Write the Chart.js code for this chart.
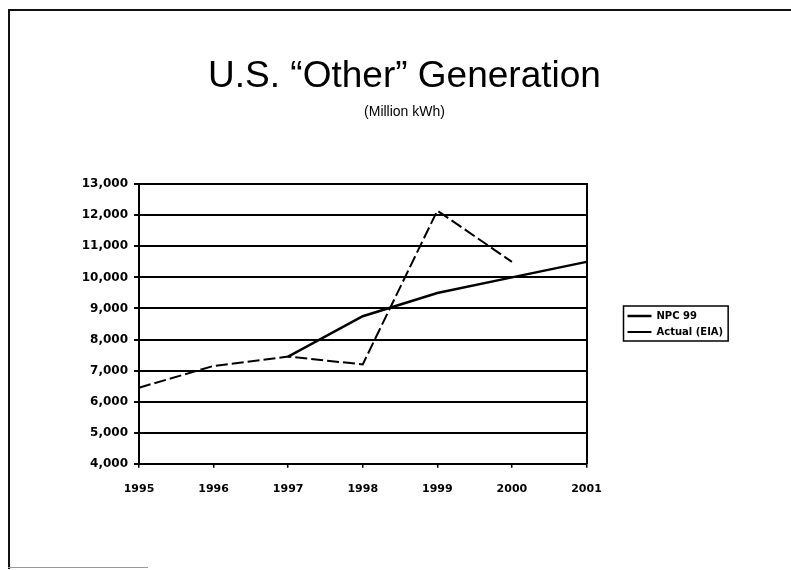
<!DOCTYPE html>
<html>
<head>
<meta charset="utf-8">
<script src="https://cdn.jsdelivr.net/npm/chart.js@4"></script>
<style>
	html, body { margin: 0; padding: 0; background: #fff; }
	.page { position: relative; width: 791px; height: 570px; overflow: hidden; }
	.frame { position: absolute; left: 8px; top: 9px; right: -4px; height: 558px; border-top: 2px solid #111; border-left: 2px solid #111; }
	.frame-bottom { position: absolute; left: 8px; top: 567px; width: 140px; height: 0; border-top: 1px solid #999; }
	canvas { position: absolute; left: 0; top: 0; }
</style>
</head>
<body>
<div class="page">
	<div class="frame"></div>
	<div class="frame-bottom"></div>
	<canvas id="chart" width="791" height="570"></canvas>
</div>
<script>
/* ----- Data ----- */

// Years
const years = ['1995', '1996', '1997', '1998', '1999', '2000', '2001'];

// NPC 99 (solid)
const npc99 = [null, null, 7450, 8750, 9500, 10000, 10500];

// Actual (EIA) (dashed)
const actualEia = [6450, 7150, 7450, 7200, 12150, 10500, null];

// Axis range
const yMin = 4000;
const yMax = 13000;
const yStep = 1000;

/* ----- Legend Box ----- */

const legendBox = {
	id: 'legendBox',
	afterDraw: chart => {
		const boxes = chart.legend.legendHitBoxes;
		if (!boxes || !boxes.length) return;
		const left = Math.min(...boxes.map(b => b.left)) - 4;
		const top = Math.min(...boxes.map(b => b.top)) - 5;
		const right = Math.max(...boxes.map(b => b.left + b.width)) + 5;
		const bottom = Math.max(...boxes.map(b => b.top + b.height)) + 4;
		const ctx = chart.ctx;
		ctx.save();
		ctx.strokeStyle = '#000';
		ctx.lineWidth = 1.5;
		ctx.strokeRect(left, top, right - left, bottom - top);
		ctx.restore();
	}
};

/* ----- Define Chart ----- */

const tickFont = { family: 'DejaVu Sans', weight: 'bold', size: 11 };

const chart = new Chart(document.getElementById('chart'), {
	type: 'line',
	data: {
		labels: years,
		datasets: [
			{
				label: 'NPC 99',
				data: npc99,
				borderColor: '#000',
				backgroundColor: '#000',
				borderWidth: 2.5,
				pointRadius: 0,
				tension: 0
			},
			{
				label: 'Actual (EIA)',
				data: actualEia,
				borderColor: '#000',
				backgroundColor: '#000',
				borderWidth: 2,
				borderDash: [12, 4],
				pointRadius: 0,
				tension: 0
			}
		]
	},
	options: {
		responsive: false,
		animation: false,
		events: [],
		layout: {
			padding: { left: 79, right: 61, top: 0, bottom: 59 }
		},
		scales: {
			x: {
				type: 'category',
				offset: false,
				grid: {
					drawOnChartArea: false,
					drawTicks: true,
					tickLength: 4,
					color: '#000',
					lineWidth: 1.5
				},
				border: { display: true, color: '#000', width: 2 },
				ticks: {
					color: '#000',
					font: tickFont,
					padding: 15,
					maxRotation: 0
				}
			},
			y: {
				min: yMin,
				max: yMax,
				afterFit: scale => { scale.width = 60; },
				grid: {
					color: '#000',
					lineWidth: 2,
					drawTicks: true,
					tickLength: 5
				},
				border: { display: true, color: '#000', width: 2 },
				ticks: {
					stepSize: yStep,
					color: '#000',
					font: { family: 'DejaVu Sans', weight: 'bold', size: 12 },
					padding: 6,
					callback: value => value.toLocaleString('en-US')
				}
			},
			y2: {
				position: 'right',
				min: yMin,
				max: yMax,
				afterFit: scale => { scale.width = 35; },
				grid: { display: false },
				border: { display: true, color: '#000', width: 2 },
				ticks: { display: false }
			}
		},
		plugins: {
			title: {
				display: true,
				text: 'U.S. \u201COther\u201D Generation',
				color: '#000',
				font: { family: 'Liberation Sans', size: 37, weight: 'normal' },
				padding: { top: 55, bottom: 0 }
			},
			subtitle: {
				display: true,
				text: '(Million kWh)',
				color: '#000',
				font: { family: 'Liberation Sans', size: 14, weight: 'normal' },
				padding: { top: 4, bottom: 64 }
			},
			legend: {
				position: 'right',
				fullSize: false,
				labels: {
					color: '#000',
					font: { family: 'DejaVu Sans', weight: 'bold', size: 10 },
					usePointStyle: true,
					pointStyle: 'line',
					pointStyleWidth: 24,
					padding: 6
				}
			},
			tooltip: { enabled: false }
		}
	},
	plugins: [legendBox]
});
</script>
</body>
</html>
